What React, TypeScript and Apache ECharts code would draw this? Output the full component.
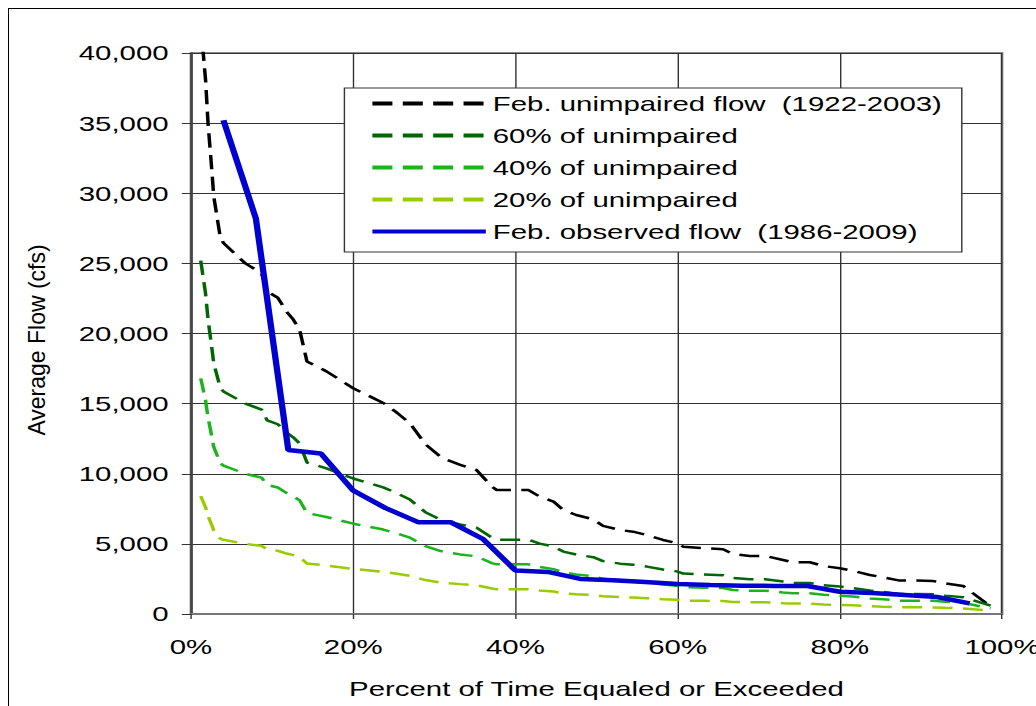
import React, { useEffect, useRef } from "react";
import * as echarts from "echarts";

// ---- data ----
const xTicks = [0, 20, 40, 60, 80, 100];
const yTicks = [0, 5000, 10000, 15000, 20000, 25000, 30000, 35000, 40000];

// percent of time equaled or exceeded (vertices of the unimpaired curves)
const unimpairedPct = [
  1.2, 1.8, 2.1, 2.6, 2.8, 3.6, 4.0, 6.7, 8.7, 9.4, 10.7, 11.8, 12.6, 13.4, 14.3, 16.7, 20.0,
  23.7, 25.4, 27.0, 28.9, 30.7, 31.5, 33.2, 35.2, 37.1, 37.7, 41.6, 43.0, 44.7, 45.9, 47.5,
  49.6, 50.8, 52.9, 54.5, 56.2, 58.2, 59.9, 60.7, 63.1, 65.6, 66.8, 68.9, 70.8, 73.0, 74.2,
  76.3, 78.0, 80.0, 81.6, 83.7, 85.3, 87.4, 89.5, 91.5, 93.0, 95.2, 98.6,
];
const unimpaired = [
  42000, 38050, 35000, 31400, 29800, 26900, 26450, 25000, 24300, 23000, 22550, 21550, 21000,
  20250, 18000, 17300, 16100, 15050, 14350, 13600, 12100, 11250, 11000, 10630, 10270, 9080,
  8840, 8840, 8370, 8010, 7420, 7060, 6750, 6280, 5990, 5870, 5630, 5280, 5060, 4800, 4700,
  4620, 4280, 4140, 4140, 3850, 3690, 3690, 3420, 3260, 3090, 2780, 2620, 2380, 2380, 2350,
  2190, 2000, 550,
];
const pct60 = [
  25200, 22830, 21000, 18840, 17880, 16140, 15870, 15000, 14580, 13800, 13530, 12930, 12600,
  12150, 10800, 10380, 9660, 9030, 8610, 8160, 7260, 6750, 6600, 6380, 6160, 5450, 5300, 5300,
  5020, 4810, 4450, 4240, 4050, 3770, 3590, 3520, 3380, 3170, 3040, 2880, 2820, 2770, 2570,
  2480, 2480, 2310, 2210, 2210, 2050, 1960, 1850, 1670, 1570, 1430, 1430, 1410, 1310, 1200, 600,
];
const pct40 = [
  16800, 15220, 14000, 12560, 11920, 10760, 10580, 10000, 9720, 9200, 9020, 8620, 8400, 8100,
  7200, 6920, 6440, 6020, 5740, 5440, 4840, 4500, 4400, 4250, 4110, 3630, 3540, 3540, 3350,
  3200, 2970, 2820, 2700, 2510, 2400, 2350, 2250, 2110, 2020, 1920, 1880, 1850, 1710, 1660,
  1660, 1540, 1480, 1480, 1370, 1300, 1240, 1110, 1050, 950, 950, 940, 880, 800, 400,
];
const pct20 = [
  8400, 7610, 7000, 6280, 5960, 5380, 5290, 5000, 4860, 4600, 4510, 4310, 4200, 4050, 3600,
  3460, 3220, 3010, 2870, 2720, 2420, 2250, 2200, 2130, 2050, 1820, 1770, 1770, 1670, 1600,
  1480, 1410, 1350, 1260, 1200, 1170, 1130, 1060, 1010, 960, 940, 920, 860, 830, 830, 770,
  740, 740, 680, 650, 620, 560, 520, 480, 480, 470, 440, 400, 250,
];

const observedPct = [
  4, 8, 12, 16, 20, 24, 28, 32, 36, 40, 44, 48, 52, 56, 60, 64, 68, 72, 76, 80, 84, 88, 92, 96,
];
const observed = [
  35200, 28200, 11700, 11450, 8800, 7550, 6550, 6550, 5350, 3100, 3000, 2500, 2400, 2280, 2140,
  2070, 2020, 2000, 2000, 1590, 1500, 1360, 1210, 760,
];

const seriesNames = [
  "Feb. unimpaired flow  (1922-2003)",
  "60% of unimpaired",
  "40% of unimpaired",
  "20% of unimpaired",
  "Feb. observed flow  (1986-2009)",
];
const xTitle = "Percent of Time Equaled or Exceeded";
const yTitle = "Average Flow (cfs)";

// ---- layout ----
const S = 1.4; // horizontal stretch of the reference picture
const W = 1036 / S;
const H = 706;
const FONT = '"Liberation Sans", Arial, sans-serif';

const pair = (xs: number[], ys: number[]) => xs.map((x, i) => [x, ys[i]]);

export default function App() {
  const ref = useRef<HTMLDivElement>(null);

  useEffect(() => {
    if (!ref.current) return;
    const chart = echarts.init(ref.current, null, { renderer: "svg" });
    const dash = [14.3, 7.4];
    const mk = (name: string, data: number[][], color: string, width: number, type: any) => ({
      name,
      type: "line",
      data,
      symbol: "none",
      showSymbol: false,
      clip: true,
      lineStyle: { color, width, type },
      itemStyle: { color },
      emphasis: { disabled: true },
    });
    chart.setOption({
      animation: false,
      backgroundColor: "transparent",
      grid: {
        left: 191 / S,
        right: W - 1002 / S,
        top: 53,
        bottom: H - 614,
        show: true,
        borderColor: "#8a8a8a",
        borderWidth: 2,
        outerBoundsMode: "none",
        containLabel: false,
      },
      legend: {
        orient: "vertical",
        left: 246,
        top: 88,
        itemWidth: 81,
        itemHeight: 14,
        itemGap: 11,
        padding: [5, 14, 10, 18],
        backgroundColor: "#fff",
        borderColor: "#333",
        borderWidth: 1,
        lineStyle: { width: 4 },
        itemStyle: { opacity: 0 },
        textStyle: { fontSize: 21, fontFamily: FONT, color: "#000" },
        data: seriesNames,
        selectedMode: false,
      },
      xAxis: {
        type: "value",
        min: 0,
        max: 100,
        interval: 20,
        name: xTitle,
        nameLocation: "middle",
        nameGap: 64,
        nameTextStyle: { fontSize: 21, fontFamily: FONT, color: "#000" },
        axisLine: { show: true, lineStyle: { color: "#777", width: 2 } },
        axisTick: { show: true, length: 5, lineStyle: { color: "#333" } },
        axisLabel: {
          margin: 22,
          fontSize: 21,
          fontFamily: FONT,
          color: "#000",
          formatter: (v: number) => (xTicks.includes(v) ? `${v}%` : ""),
        },
        splitLine: { show: true, lineStyle: { color: "#333", width: 1 } },
      },
      yAxis: {
        type: "value",
        min: 0,
        max: 40000,
        interval: 5000,
        axisLine: { show: true, lineStyle: { color: "#444", width: 1.5 } },
        axisTick: { show: true, length: 6.6, lineStyle: { color: "#333" } },
        axisLabel: {
          margin: 16,
          fontSize: 21,
          fontFamily: FONT,
          color: "#000",
          formatter: (v: number) => (yTicks.includes(v) ? v.toLocaleString("en-US") : ""),
        },
        splitLine: { show: true, lineStyle: { color: "#333", width: 1 } },
      },
      graphic: [
        {
          type: "text",
          x: 37.5 / S,
          y: 340,
          rotation: Math.PI / 2,
          scaleY: 1 / S,
          style: {
            text: yTitle,
            fontSize: 23,
            fontFamily: FONT,
            fill: "#000",
            align: "center",
            verticalAlign: "middle",
          },
        },
      ],
      series: [
        mk(seriesNames[0], pair(unimpairedPct, unimpaired), "#000000", 2.5, dash),
        mk(seriesNames[1], pair(unimpairedPct, pct60), "#006600", 2.5, dash),
        mk(seriesNames[2], pair(unimpairedPct, pct40), "#1db31d", 2.5, dash),
        mk(seriesNames[3], pair(unimpairedPct, pct20), "#99cc00", 2.5, dash),
        mk(seriesNames[4], pair(observedPct, observed), "#0000d0", 4.5, "solid"),
      ],
    });
    return () => chart.dispose();
  }, []);

  return (
    <div
      style={{
        position: "fixed",
        left: 0,
        top: 0,
        width: 1036,
        height: 706,
        overflow: "hidden",
        background: "#fff",
      }}
    >
      <div
        style={{
          position: "absolute",
          left: 8,
          top: 8,
          width: 1100,
          height: 800,
          border: "1px solid #000",
        }}
      />
      <div
        ref={ref}
        style={{
          position: "absolute",
          left: 0,
          top: 0,
          width: W,
          height: H,
          transform: `scaleX(${S})`,
          transformOrigin: "0 0",
        }}
      />
    </div>
  );
}
